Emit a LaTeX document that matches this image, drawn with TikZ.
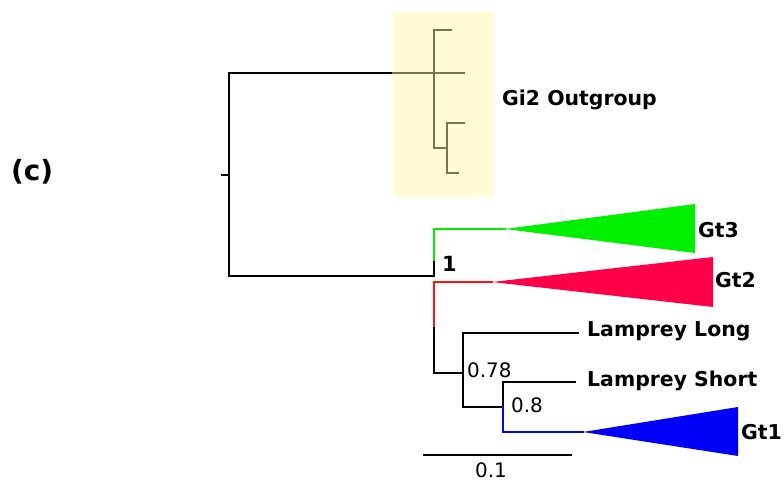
\documentclass[tikz,border=0pt]{standalone}
\usepackage{fontspec}
\setmainfont{DejaVu Sans}
\definecolor{olivel}{RGB}{118,118,78}
\definecolor{boxy}{RGB}{253,252,212}
\definecolor{gtgreen}{RGB}{0,240,0}
\definecolor{gtred}{RGB}{255,0,72}
\definecolor{brred}{RGB}{255,20,20}
\definecolor{gtblue}{RGB}{0,0,250}
\tikzset{
  br/.style={line width=2.8bp, line cap=rect},
  lbl/.style={font=\bfseries\fontsize{20.5}{21}\selectfont, anchor=west, inner sep=0pt},
  num/.style={font=\fontsize{20}{20}\selectfont, anchor=west, inner sep=0pt},
}
\begin{document}
\begin{tikzpicture}[x=1bp,y=-1bp]
\useasboundingbox (0,0) rectangle (784,484);
% yellow box
\fill[boxy] (393,12) rectangle (494,197);
% coordinates
\coordinate (r0) at (222,175);
\coordinate (r) at (229,175);
\coordinate (rt) at (229,73);
\coordinate (rb) at (229,276);
\coordinate (og) at (434,73);
\coordinate (ogt) at (434,30);
\coordinate (ogtt) at (451,30);
\coordinate (ogm) at (464,73);
\coordinate (ogb) at (434,148);
\coordinate (ogc) at (447,148);
\coordinate (ogc1) at (447,123);
\coordinate (ogc1t) at (464,123);
\coordinate (ogc2) at (447,173);
\coordinate (ogc2t) at (458,173);
\coordinate (a) at (434,276);
\coordinate (ag) at (434,229);
\coordinate (agt) at (505,229);
\coordinate (ar) at (434,282);
\coordinate (art) at (492,282);
\coordinate (arb) at (434,328);
\coordinate (ab) at (434,373);
\coordinate (b) at (463,373);
\coordinate (bt) at (463,333);
\coordinate (btt) at (578,333);
\coordinate (bb) at (463,407);
\coordinate (c) at (503,407);
\coordinate (ct) at (503,382);
\coordinate (ctt) at (575,382);
\coordinate (cb) at (503,432);
\coordinate (cbt) at (583,432);
% root
\draw[br] (r0) -- (r);
\draw[br] (rt) -- (rb);
\draw[br] (rt) -- (393,73);
\draw[br,olivel] (393,73) -- (og);
\draw[br] (rb) -- (a);
% outgroup
\draw[br,olivel] (ogtt) -- (ogt) -- (ogb) -- (ogc);
\draw[br,olivel] (og) -- (ogm);
\draw[br,olivel] (ogc1t) -- (ogc1) -- (ogc2) -- (ogc2t);
% Gt3
\draw[br] (a) -- (434,260);
\draw[br,gtgreen] (434,260) -- (ag) -- (agt);
\fill[gtgreen] (agt) -- (695,204) -- (695,253) -- cycle;
% Gt2
\draw[br,brred] (ar) -- (art);
\draw[br,brred] (ar) -- (arb);
\fill[gtred] (art) -- (713,257) -- (713,307) -- cycle;
% lower
\draw[br] (arb) -- (ab) -- (b);
\draw[br] (bt) -- (bb) -- (c) -- (ct) -- (ctt);
\draw[br] (bt) -- (btt);
\draw[br,gtblue] (c) -- (cb) -- (cbt);
\fill[gtblue] (cbt) -- (738,407) -- (738,456) -- cycle;
% scale bar
\coordinate (s1) at (424,455);
\coordinate (s2) at (571,455);
\draw[br] (s1) -- (s2);
% labels
\node[lbl] (lgi) at (502,100) {Gi2 Outgroup};
\node[lbl] (lgt3) at (698,230) {Gt3};
\node[lbl] (lgt2) at (715,280) {Gt2};
\node[lbl] (lgt1) at (741,432) {Gt1};
\node[lbl] (lll) at (587,331) {Lamprey Long};
\node[lbl] (lls) at (587,381) {Lamprey Short};
\node[num,font=\bfseries\fontsize{21}{21}\selectfont] (n1) at (442,264) {1};
\node[num] (n78) at (467,370) {0.78};
\node[num] (n8) at (511,405) {0.8};
\node[num] (n01) at (475,470) {0.1};
\node[lbl,font=\bfseries\fontsize{28}{28}\selectfont] (lc) at (11,172) {(c)};
\end{tikzpicture}
\end{document}
